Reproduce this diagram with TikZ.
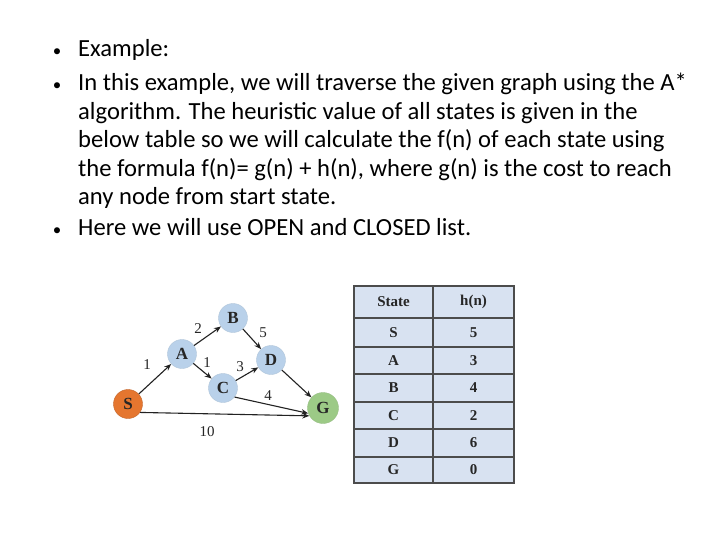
\documentclass[tikz,border=0pt]{standalone}
\usepackage{fontspec}
\setmainfont{Carlito}
\newfontfamily\serifgr{Liberation Serif}
\usetikzlibrary{arrows.meta}
\definecolor{nodeblue}{HTML}{B9D1EA}
\definecolor{nodeorange}{HTML}{E5762F}
\definecolor{nodegreen}{HTML}{9CCA86}
\definecolor{tabfill}{HTML}{D8E2F1}
\definecolor{edgegray}{HTML}{222222}
\tikzset{
  txt/.style={anchor=base west, inner sep=0pt, font=\fontsize{24.6}{28}\selectfont},
  bul/.style={anchor=base, inner sep=0pt, font=\fontsize{17}{20}\selectfont},
  gnode/.style={circle, minimum size=29pt, inner sep=0pt, fill=nodeblue, draw=nodeblue!85!gray, line width=0.4pt, font=\serifgr\bfseries\fontsize{17}{17}\selectfont, text=black!85},
  edge/.style={draw=edgegray, line width=1.1pt, -{Stealth[length=7pt,width=5.5pt]}},
  elab/.style={inner sep=0pt, font=\serifgr\fontsize{15}{15}\selectfont, text=black!85},
  tline/.style={draw=black!70, line width=1.2pt},
  tcell/.style={inner sep=0pt, font=\serifgr\bfseries\fontsize{15}{15}\selectfont, text=black!85}
}
\begin{document}
\begin{tikzpicture}[x=1pt, y=-1pt]
\useasboundingbox[fill=white] (0,0) rectangle (720,540);
% text
\node[bul] (b1) at (57,57) {•};
\node[txt] (l1) at (78,57) {Example:};
\node[bul] (b2) at (57,91) {•};
\node[txt] (l2) at (78,91) {In this example, we will traverse the given graph using the A*};
\node[txt] (l3) at (78,120) {algorithm. The heuristic value of all states is given in the};
\node[txt] (l4) at (78,148) {below table so we will calculate the f(n) of each state using};
\node[txt] (l5) at (78,177) {the formula f(n)= g(n) + h(n), where g(n) is the cost to reach};
\node[txt] (l6) at (78,205) {any node from start state.};
\node[bul] (b3) at (57,236) {•};
\node[txt] (l7) at (78,236) {Here we will use OPEN and CLOSED list.};
% graph
\node[gnode] (B) at (233,318) {B};
\node[gnode] (A) at (182,354) {A};
\node[gnode] (D) at (271,360) {D};
\node[gnode] (C) at (223,388) {C};
\node[gnode, fill=nodeorange, draw=nodeorange!85!black] (S) at (128,404) {S};
\node[gnode, fill=nodegreen, draw=nodegreen!85!gray, minimum size=31pt] (G) at (323,408) {G};
\draw[edge] (S) -- (A);
\draw[edge] (A) -- (B);
\draw[edge] (B) -- (D);
\draw[edge] (A) -- (C);
\draw[edge] (C) -- (D);
\draw[edge] (D) -- (G);
\draw[edge] (C.-38) -- (G.-160);
\draw[edge] (S.-35) -- (G.-150);
\node[elab] (e1) at (198,329) {2};
\node[elab] (e2) at (263,333) {5};
\node[elab] (e3) at (147,365) {1};
\node[elab] (e4) at (207,363) {1};
\node[elab] (e5) at (240,367) {3};
\node[elab] (e6) at (268,396) {4};
\node[elab] (e7) at (207,432) {10};
% table
\fill[tabfill] (354,286) rectangle (514,483);
\draw[tline] (354,286) rectangle (514,483);
\draw[tline] (433,286) -- (433,483);
\foreach \yy in {318,347,374,402,429,457} {\draw[tline] (354,\yy) -- (514,\yy);}
\node[tcell] (h1) at (393.5,302) {State};
\node[tcell] (h2) at (473.5,302) {h(n)};
\node[tcell] (s1) at (393.5,332.5) {S};  \node[tcell] (v1) at (473.5,332.5) {5};
\node[tcell] (s2) at (393.5,360.5) {A};  \node[tcell] (v2) at (473.5,360.5) {3};
\node[tcell] (s3) at (393.5,388) {B};    \node[tcell] (v3) at (473.5,388) {4};
\node[tcell] (s4) at (393.5,415.5) {C};  \node[tcell] (v4) at (473.5,415.5) {2};
\node[tcell] (s5) at (393.5,443) {D};    \node[tcell] (v5) at (473.5,443) {6};
\node[tcell] (s6) at (393.5,470) {G};    \node[tcell] (v6) at (473.5,470) {0};
\end{tikzpicture}
\end{document}
